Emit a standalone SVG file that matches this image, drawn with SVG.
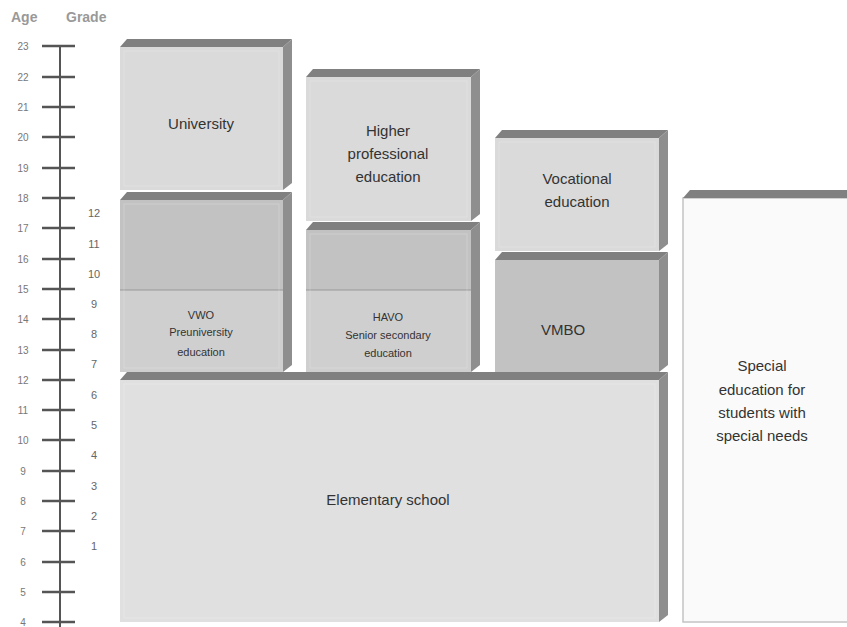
<svg xmlns="http://www.w3.org/2000/svg" width="847" height="627" viewBox="0 0 847 627">
<style>
text{font-family:"Liberation Sans",Arial,sans-serif;fill:#333;text-anchor:middle}
.ax{fill:#777;font-size:10px}
.hd{fill:#999;font-size:14px;font-weight:bold;text-anchor:start}
.gr{fill:#666;font-size:11px}
.lb{font-size:15px}
.sm{font-size:11px}
.top{fill:#808080}
.side{fill:#8e8e8e}
.lt{fill:#dadada}
.md{fill:#c2c2c2}
.ml{fill:#cfcfcf}
.el{fill:#e0e0e0}
.sp{fill:#fafafa;stroke:#c4c4c4;stroke-width:1.5}
.in{fill:none;stroke:#ffffff;stroke-opacity:0.2;stroke-width:1}
.tick{stroke:#555;stroke-width:2.5}
</style>
<rect width="847" height="627" fill="#ffffff"/>
<g id="axis">
<text class="hd" x="11" y="22">Age</text>
<text class="hd" x="66" y="22">Grade</text>
<line x1="60" y1="46" x2="60" y2="627" stroke="#555" stroke-width="2"/>
<g class="tick">
<line x1="42" y1="46" x2="75" y2="46"/><line x1="42" y1="77" x2="75" y2="77"/><line x1="42" y1="107" x2="75" y2="107"/><line x1="42" y1="137" x2="75" y2="137"/><line x1="42" y1="168" x2="75" y2="168"/><line x1="42" y1="198" x2="75" y2="198"/><line x1="42" y1="228" x2="75" y2="228"/><line x1="42" y1="259" x2="75" y2="259"/><line x1="42" y1="289" x2="75" y2="289"/><line x1="42" y1="319" x2="75" y2="319"/><line x1="42" y1="350" x2="75" y2="350"/><line x1="42" y1="380" x2="75" y2="380"/><line x1="42" y1="410" x2="75" y2="410"/><line x1="42" y1="440" x2="75" y2="440"/><line x1="42" y1="471" x2="75" y2="471"/><line x1="42" y1="501" x2="75" y2="501"/><line x1="42" y1="531" x2="75" y2="531"/><line x1="42" y1="562" x2="75" y2="562"/><line x1="42" y1="592" x2="75" y2="592"/><line x1="42" y1="622" x2="75" y2="622"/>
</g>
<text class="ax" x="23" y="50">23</text><text class="ax" x="23" y="81">22</text><text class="ax" x="23" y="111">21</text><text class="ax" x="23" y="141">20</text><text class="ax" x="23" y="172">19</text><text class="ax" x="23" y="202">18</text><text class="ax" x="23" y="232">17</text><text class="ax" x="23" y="263">16</text><text class="ax" x="23" y="293">15</text><text class="ax" x="23" y="323">14</text><text class="ax" x="23" y="354">13</text><text class="ax" x="23" y="384">12</text><text class="ax" x="23" y="414">11</text><text class="ax" x="23" y="444">10</text><text class="ax" x="23" y="475">9</text><text class="ax" x="23" y="505">8</text><text class="ax" x="23" y="535">7</text><text class="ax" x="23" y="566">6</text><text class="ax" x="23" y="596">5</text><text class="ax" x="23" y="626">4</text>
<text class="gr" x="94" y="217">12</text><text class="gr" x="94" y="248">11</text><text class="gr" x="94" y="278">10</text><text class="gr" x="94" y="308">9</text><text class="gr" x="94" y="338">8</text><text class="gr" x="94" y="368">7</text><text class="gr" x="94" y="399">6</text><text class="gr" x="94" y="429">5</text><text class="gr" x="94" y="459">4</text><text class="gr" x="94" y="490">3</text><text class="gr" x="94" y="520">2</text><text class="gr" x="94" y="550">1</text>
</g>
<g id="university">
<rect class="lt" x="120" y="47" width="163" height="143"/>
<rect class="in" x="124" y="51" width="155" height="135"/>
<polygon class="top" points="120,47 127,39 292,39 283,47"/>
<polygon class="side" points="283,47 292,39 292,183 283,190"/>
<text class="lb" x="201" y="129">University</text>
</g>
<g id="vwo">
<rect class="md" x="120" y="200" width="163" height="90"/>
<rect class="ml" x="120" y="290" width="163" height="82"/>
<line x1="120" y1="290" x2="283" y2="290" stroke="#999" stroke-width="1"/>
<rect class="in" x="124" y="204" width="155" height="164"/>
<polygon class="top" points="120,200 127,192 292,192 283,200"/>
<polygon class="side" points="283,200 292,192 292,365 283,372"/>
<text class="sm" x="201" y="319">VWO</text>
<text class="sm" x="201" y="336">Preuniversity</text>
<text class="sm" x="201" y="356">education</text>
</g>
<g id="hbo">
<rect class="lt" x="306" y="77" width="165" height="144"/>
<rect class="in" x="310" y="81" width="157" height="136"/>
<polygon class="top" points="306,77 313,69 480,69 471,77"/>
<polygon class="side" points="471,77 480,69 480,214 471,221"/>
<text class="lb" x="388" y="136">Higher</text>
<text class="lb" x="388" y="159">professional</text>
<text class="lb" x="388" y="182">education</text>
</g>
<g id="havo">
<rect class="md" x="306" y="230" width="165" height="60"/>
<rect class="ml" x="306" y="290" width="165" height="82"/>
<line x1="306" y1="290" x2="471" y2="290" stroke="#999" stroke-width="1"/>
<rect class="in" x="310" y="234" width="157" height="134"/>
<polygon class="top" points="306,230 313,222 480,222 471,230"/>
<polygon class="side" points="471,230 480,222 480,365 471,372"/>
<text class="sm" x="388" y="321">HAVO</text>
<text class="sm" x="388" y="339">Senior secondary</text>
<text class="sm" x="388" y="357">education</text>
</g>
<g id="vocational">
<rect class="lt" x="495" y="138" width="164" height="113"/>
<rect class="in" x="499" y="142" width="156" height="105"/>
<polygon class="top" points="495,138 502,130 668,130 659,138"/>
<polygon class="side" points="659,138 668,130 668,244 659,251"/>
<text class="lb" x="577" y="184">Vocational</text>
<text class="lb" x="577" y="207">education</text>
</g>
<g id="vmbo">
<rect class="md" x="495" y="260" width="164" height="112"/>
<polygon class="top" points="495,260 502,252 668,252 659,260"/>
<polygon class="side" points="659,260 668,252 668,365 659,372"/>
<text class="lb" x="563" y="335">VMBO</text>
</g>
<g id="elementary">
<rect class="el" x="120" y="380" width="539" height="242"/>
<rect class="in" x="124" y="384" width="531" height="234"/>
<polygon class="top" points="120,380 127,372 668,372 659,380"/>
<polygon class="side" points="659,380 668,372 668,615 659,622"/>
<text class="lb" x="388" y="505">Elementary school</text>
</g>
<g id="special">
<rect class="sp" x="683" y="198" width="170" height="424"/>
<polygon class="top" points="683,198 690,190 855,190 855,198"/>
<text class="lb" x="762" y="371">Special</text>
<text class="lb" x="762" y="395">education for</text>
<text class="lb" x="762" y="418">students with</text>
<text class="lb" x="762" y="441">special needs</text>
</g>
<g id="connectors"/>
</svg>
